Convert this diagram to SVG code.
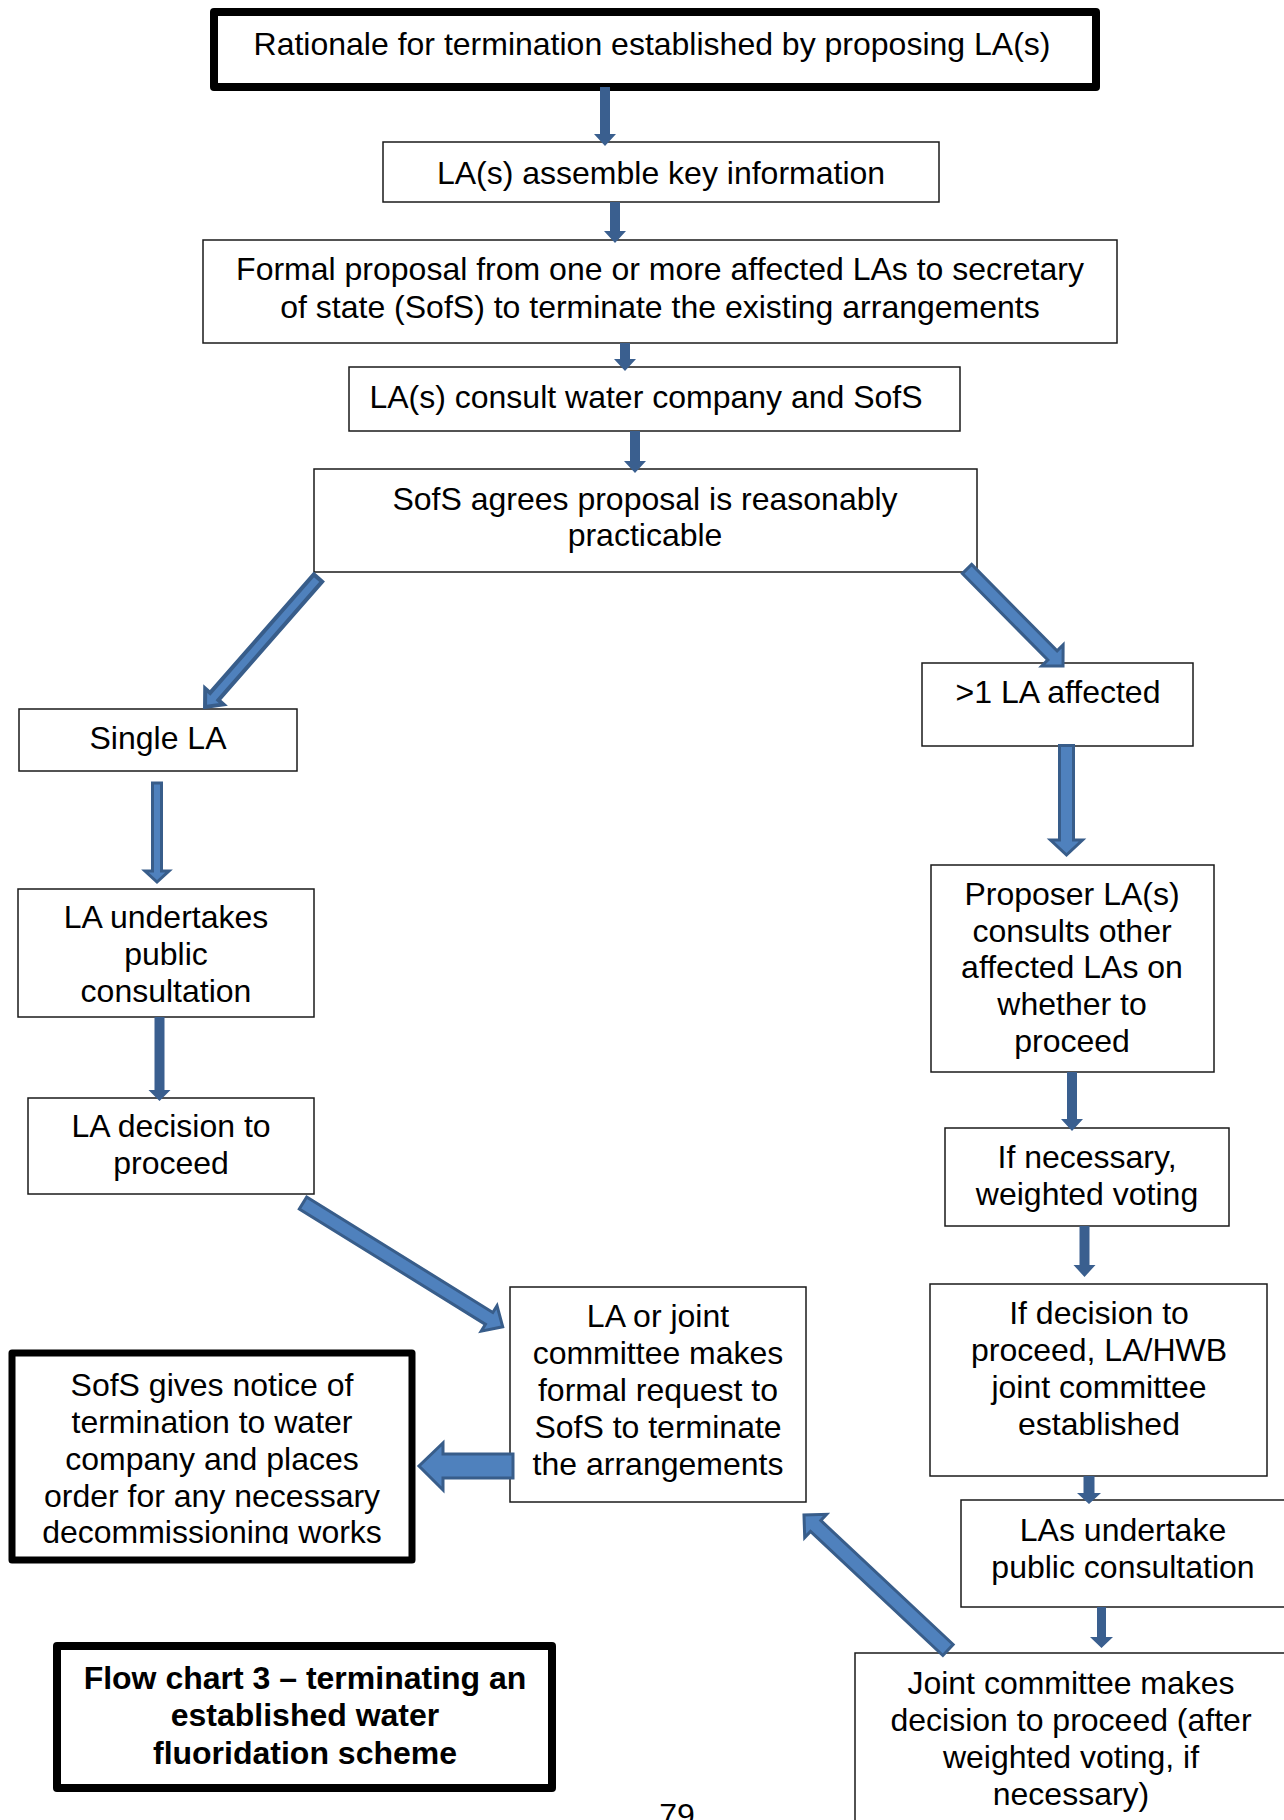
<svg xmlns="http://www.w3.org/2000/svg" width="1284" height="1820" viewBox="0 0 1284 1820">
<style>
text{font-family:"Liberation Sans",Arial,sans-serif;font-size:32px;fill:#000;text-anchor:middle}
.b{fill:#fff;stroke:#1a1a1a;stroke-width:1.5}
.thick{fill:#fff;stroke:#000;stroke-width:8;stroke-linejoin:round}
.title{font-weight:bold}
.s{fill:#3A5F8F;stroke:none}
.big{fill:#4F81BD;stroke:#385D8A;stroke-width:3;stroke-linejoin:miter}
</style>
<defs>
<clipPath id="clipSofS"><rect x="15" y="1356" width="394" height="188"/></clipPath>
</defs>
<rect width="1284" height="1820" fill="#fff"/>
<g id="n1"><rect class="thick" x="214" y="12" width="882" height="75"/><text x="652" y="55">Rationale for termination established by proposing LA(s)</text></g>
<g id="n2"><rect class="b" x="383" y="142" width="556" height="60"/><text x="661" y="184">LA(s) assemble key information</text></g>
<g id="n3"><rect class="b" x="203" y="240" width="914" height="103"/><text x="660" y="280">Formal proposal from one or more affected LAs to secretary</text><text x="660" y="318">of state (SofS) to terminate the existing arrangements</text></g>
<g id="n4"><rect class="b" x="349" y="367" width="611" height="64"/><text x="646" y="408">LA(s) consult water company and SofS</text></g>
<g id="n5"><rect class="b" x="314" y="469" width="663" height="103"/><text x="645" y="510">SofS agrees proposal is reasonably</text><text x="645" y="546">practicable</text></g>
<g id="n6"><rect class="b" x="19" y="709" width="278" height="62"/><text x="158" y="749">Single LA</text></g>
<g id="n7"><rect class="b" x="18" y="889" width="296" height="128"/><text x="166" y="928">LA undertakes</text><text x="166" y="965">public</text><text x="166" y="1002">consultation</text></g>
<g id="n8"><rect class="b" x="28" y="1098" width="286" height="96"/><text x="171" y="1137">LA decision to</text><text x="171" y="1174">proceed</text></g>
<g id="n9"><rect class="b" x="510" y="1287" width="296" height="215"/><text x="658" y="1327">LA or joint</text><text x="658" y="1364">committee makes</text><text x="658" y="1401">formal request to</text><text x="658" y="1438">SofS to terminate</text><text x="658" y="1475">the arrangements</text></g>
<g id="n10"><rect class="thick" x="12" y="1353" width="400" height="207" style="stroke-width:7"/><g clip-path="url(#clipSofS)"><text x="212" y="1396">SofS gives notice of</text><text x="212" y="1433">termination to water</text><text x="212" y="1470">company and places</text><text x="212" y="1507">order for any necessary</text><text x="212" y="1543">decommissioning works</text></g></g>
<g id="n11"><rect class="thick" x="57" y="1646" width="495" height="142"/><text class="title" x="305" y="1689">Flow chart 3 – terminating an</text><text class="title" x="305" y="1726">established water</text><text class="title" x="305" y="1764">fluoridation scheme</text></g>
<g id="n12"><rect class="b" x="922" y="663" width="271" height="83"/><text x="1058" y="703">&gt;1 LA affected</text></g>
<g id="n13"><rect class="b" x="931" y="865" width="283" height="207"/><text x="1072" y="905">Proposer LA(s)</text><text x="1072" y="942">consults other</text><text x="1072" y="978">affected LAs on</text><text x="1072" y="1015">whether to</text><text x="1072" y="1052">proceed</text></g>
<g id="n14"><rect class="b" x="945" y="1128" width="284" height="98"/><text x="1087" y="1168">If necessary,</text><text x="1087" y="1205">weighted voting</text></g>
<g id="n15"><rect class="b" x="930" y="1284" width="337" height="192"/><text x="1099" y="1324">If decision to</text><text x="1099" y="1361">proceed, LA/HWB</text><text x="1099" y="1398">joint committee</text><text x="1099" y="1435">established</text></g>
<g id="n16"><rect class="b" x="961" y="1500" width="330" height="107"/><text x="1123" y="1541">LAs undertake</text><text x="1123" y="1578">public consultation</text></g>
<g id="n17"><rect class="b" x="855" y="1653" width="440" height="180"/><text x="1071" y="1694">Joint committee makes</text><text x="1071" y="1731">decision to proceed (after</text><text x="1071" y="1768">weighted voting, if</text><text x="1071" y="1805">necessary)</text></g>
<g id="page"><text x="677" y="1826">79</text></g>
<g id="connectors">
<polygon class="s" points="600,87 610,87 610,134 616,134 605,146 594,134 600,134"/>
<polygon class="s" points="610,202 620,202 620,231 626,231 615,243 604,231 610,231"/>
<polygon class="s" points="620,343 630,343 630,359 636,359 625,371 614,359 620,359"/>
<polygon class="s" points="630,431 640,431 640,461 646,461 635,473 624,461 630,461"/>
<polygon class="s" points="154.5,1017 164.5,1017 164.5,1090 170.5,1090 159.5,1101 148.5,1090 154.5,1090"/>
<polygon class="s" points="1067,1072 1077,1072 1077,1119 1083,1119 1072,1131 1061,1119 1067,1119"/>
<polygon class="s" points="1079.5,1226 1089.5,1226 1089.5,1265 1095.5,1265 1084.5,1277 1073.5,1265 1079.5,1265"/>
<polygon class="s" points="1083.5,1476 1094.5,1476 1094.5,1493 1101,1493 1089,1504 1077,1493 1083.5,1493"/>
<polygon class="s" points="1097,1607 1106,1607 1106,1637 1113,1637 1101.5,1648 1090,1637 1097,1637"/>
<polygon class="big" points="152.5,783 161.5,783 161.5,871 169,871 157,882 145,871 152.5,871"/>
<polygon class="big" points="1059.5,745.5 1073.5,745.5 1073.5,840 1082.5,840 1066.5,855 1050.5,840 1059.5,840"/>
<polygon class="big" style="stroke-width:4" transform="translate(318,578) rotate(131.2)" points="0,-5.5 157.5,-5.5 157.5,-12 171.5,0 157.5,12 157.5,5.5 0,5.5"/>
<polygon class="big" transform="translate(967,569) rotate(45.3)" points="0,-6.5 121.5,-6.5 121.5,-15 136.5,0 121.5,15 121.5,6.5 0,6.5"/>
<polygon class="big" transform="translate(303,1203) rotate(31.8)" points="0,-7 219,-7 219,-15 235,0 219,15 219,7 0,7"/>
<polygon class="big" transform="translate(948,1650) rotate(-136.85)" points="0,-7.5 181.4,-7.5 181.4,-16 197.4,0 181.4,16 181.4,7.5 0,7.5"/>
<polygon class="big" points="513,1454 443,1454 443,1443 419,1466 443,1490 443,1478 513,1478"/>
</g>
</svg>
